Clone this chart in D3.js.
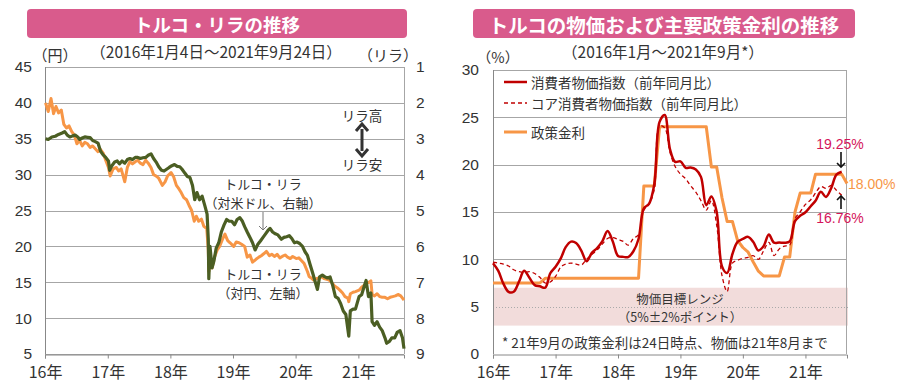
<!DOCTYPE html>
<html><head><meta charset="utf-8">
<script src="https://cdn.jsdelivr.net/npm/d3@7"></script>
<style>
body{margin:0;background:#fff;}
svg text{font-family:"Liberation Sans","Noto Sans CJK JP",sans-serif;fill:#333;}
svg text.jp{font-family:"Noto Sans CJK JP","Liberation Sans",sans-serif;}
</style></head><body>
<svg id="c" width="900" height="390"></svg>
<script>
// ---------- DATA ----------
const yearTickDates = ["2016-01-01","2017-01-01","2018-01-01","2019-01-01","2020-01-01","2021-01-01"];
const yearTickLabels = ["16年","17年","18年","19年","20年","21年"];
const leftTicksYen = [5,10,15,20,25,30,35,40,45];
const rightTicksLira = [1,2,3,4,5,6,7,8,9];
const rightChartTicks = [0,5,10,15,20,25,30];

// Turkish lira vs JPY (yen per lira, left axis)
const tryJpy = [
["2016-01-04",40.0],["2016-01-20",38.8],["2016-02-05",40.6],["2016-02-20",38.5],["2016-03-05",39.5],["2016-03-20",38.6],
["2016-04-05",39.0],["2016-04-20",37.0],["2016-05-05",36.5],["2016-05-20",36.8],["2016-06-05",36.0],["2016-06-20",35.5],
["2016-07-05",34.3],["2016-07-20",34.8],["2016-08-05",34.0],["2016-08-20",34.5],["2016-09-05",34.3],["2016-09-20",33.8],
["2016-10-05",34.0],["2016-10-20",33.6],["2016-11-05",33.2],["2016-11-20",33.5],["2016-12-05",33.0],["2016-12-20",32.0],
["2017-01-05",31.0],["2017-01-15",29.8],["2017-02-01",30.8],["2017-02-20",31.0],["2017-03-05",30.5],["2017-03-20",30.8],
["2017-04-10",29.0],["2017-04-25",31.0],["2017-05-10",31.8],["2017-05-25",31.5],["2017-06-10",31.8],["2017-06-25",32.0],
["2017-07-10",31.6],["2017-07-25",31.4],["2017-08-10",32.0],["2017-08-25",31.6],["2017-09-10",31.0],["2017-09-25",30.0],
["2017-10-10",29.8],["2017-10-25",29.5],["2017-11-15",28.5],["2017-12-01",29.0],["2017-12-15",29.8],["2018-01-05",30.3],
["2018-01-20",29.7],["2018-02-05",28.5],["2018-02-20",28.0],["2018-03-05",27.5],["2018-03-20",26.8],["2018-04-05",26.5],
["2018-04-20",25.7],["2018-05-05",25.0],["2018-05-20",23.5],["2018-06-01",24.2],["2018-06-15",23.5],["2018-07-01",23.8],
["2018-07-15",22.8],["2018-08-01",22.5],["2018-08-10",19.5],["2018-08-13",16.5],["2018-08-20",18.0],["2018-09-01",17.0],
["2018-09-15",18.5],["2018-10-01",19.5],["2018-10-15",20.0],["2018-11-01",21.0],["2018-11-15",21.7],["2018-12-01",20.8],
["2018-12-15",20.5],["2019-01-05",20.0],["2019-01-20",20.6],["2019-02-05",20.5],["2019-02-20",20.3],["2019-03-10",20.0],
["2019-03-25",18.5],["2019-04-10",18.8],["2019-04-25",17.8],["2019-05-15",18.2],["2019-06-01",18.5],["2019-06-15",18.7],
["2019-07-01",19.0],["2019-07-15",19.3],["2019-08-01",18.7],["2019-08-15",18.9],["2019-09-01",18.6],["2019-09-15",18.9],
["2019-10-01",18.4],["2019-10-15",18.6],["2019-11-01",18.8],["2019-11-15",18.5],["2019-12-01",18.3],["2019-12-15",18.6],
["2020-01-05",18.3],["2020-01-20",18.4],["2020-02-05",18.0],["2020-02-20",17.6],["2020-03-10",16.5],["2020-03-20",15.8],
["2020-04-01",15.6],["2020-04-15",15.3],["2020-05-01",15.5],["2020-05-15",15.6],["2020-06-01",15.8],["2020-06-15",15.5],
["2020-07-01",15.4],["2020-07-15",15.3],["2020-08-01",14.9],["2020-08-15",14.5],["2020-09-01",14.2],["2020-09-15",13.9],
["2020-10-01",13.5],["2020-10-15",13.0],["2020-11-01",12.8],["2020-11-06",12.3],["2020-11-15",13.4],["2020-12-01",13.6],
["2020-12-15",13.7],["2021-01-05",13.9],["2021-01-20",14.3],["2021-02-05",14.6],["2021-02-18",14.9],["2021-03-05",15.0],
["2021-03-15",15.2],["2021-03-22",13.3],["2021-04-05",13.1],["2021-04-20",13.4],["2021-05-05",13.0],["2021-05-20",12.9],
["2021-06-05",12.9],["2021-06-20",12.7],["2021-07-05",12.9],["2021-07-20",13.0],["2021-08-05",13.1],["2021-08-20",13.3],
["2021-09-05",13.1],["2021-09-24",12.5]
];

// Turkish lira vs USD (lira per dollar, right axis, inverted)
const tryUsd = [
["2016-01-04",3.00],["2016-01-20",3.02],["2016-02-10",2.95],["2016-03-01",2.93],["2016-03-20",2.88],["2016-04-10",2.84],
["2016-04-25",2.80],["2016-05-10",2.90],["2016-05-25",2.95],["2016-06-10",2.92],["2016-06-25",2.90],["2016-07-10",2.95],
["2016-07-20",3.02],["2016-08-05",2.98],["2016-08-20",2.95],["2016-09-05",2.96],["2016-09-20",2.97],["2016-10-05",3.05],
["2016-10-20",3.08],["2016-11-05",3.12],["2016-11-20",3.35],["2016-12-05",3.45],["2016-12-20",3.52],["2017-01-05",3.62],
["2017-01-12",3.88],["2017-01-25",3.75],["2017-02-10",3.65],["2017-02-25",3.62],["2017-03-10",3.70],["2017-03-25",3.62],
["2017-04-10",3.68],["2017-04-25",3.58],["2017-05-10",3.55],["2017-05-25",3.58],["2017-06-10",3.52],["2017-06-25",3.52],
["2017-07-10",3.55],["2017-07-25",3.53],["2017-08-10",3.52],["2017-08-25",3.46],["2017-09-10",3.42],["2017-09-25",3.55],
["2017-10-10",3.65],["2017-10-25",3.78],["2017-11-10",3.88],["2017-11-25",3.90],["2017-12-10",3.85],["2017-12-25",3.80],
["2018-01-10",3.75],["2018-01-25",3.72],["2018-02-10",3.77],["2018-02-25",3.78],["2018-03-10",3.85],["2018-03-25",3.95],
["2018-04-10",4.05],["2018-04-25",4.08],["2018-05-10",4.30],["2018-05-23",4.70],["2018-06-05",4.50],["2018-06-20",4.70],
["2018-07-05",4.60],["2018-07-20",4.85],["2018-08-03",5.10],["2018-08-10",5.80],["2018-08-13",6.90],["2018-08-20",6.00],
["2018-09-01",6.60],["2018-09-12",6.40],["2018-09-25",6.05],["2018-10-10",5.90],["2018-10-25",5.60],["2018-11-10",5.40],
["2018-11-25",5.25],["2018-12-10",5.30],["2018-12-25",5.30],["2019-01-10",5.40],["2019-01-25",5.25],["2019-02-10",5.20],
["2019-02-25",5.30],["2019-03-10",5.45],["2019-03-25",5.60],["2019-04-10",5.75],["2019-04-25",5.90],["2019-05-10",6.10],
["2019-05-25",5.95],["2019-06-10",5.85],["2019-06-25",5.75],["2019-07-10",5.65],["2019-07-25",5.55],["2019-08-05",5.50],
["2019-08-20",5.60],["2019-09-05",5.65],["2019-09-20",5.68],["2019-10-10",5.80],["2019-10-25",5.75],["2019-11-10",5.73],
["2019-11-25",5.70],["2019-12-10",5.78],["2019-12-25",5.90],["2020-01-10",5.88],["2020-01-25",5.92],["2020-02-10",6.00],
["2020-02-25",6.15],["2020-03-10",6.25],["2020-03-25",6.50],["2020-04-10",6.75],["2020-04-25",7.00],["2020-05-07",7.20],
["2020-05-20",6.85],["2020-06-05",6.80],["2020-06-20",6.85],["2020-07-05",6.88],["2020-07-20",6.85],["2020-08-05",7.10],
["2020-08-20",7.40],["2020-09-05",7.45],["2020-09-20",7.60],["2020-10-05",7.80],["2020-10-20",7.90],["2020-11-06",8.50],
["2020-11-15",7.80],["2020-12-01",7.75],["2020-12-15",7.75],["2021-01-05",7.40],["2021-01-20",7.35],["2021-02-05",7.10],
["2021-02-15",6.95],["2021-03-01",7.40],["2021-03-15",7.30],["2021-03-22",8.10],["2021-04-05",8.20],["2021-04-20",8.10],
["2021-05-05",8.25],["2021-05-20",8.35],["2021-06-05",8.55],["2021-06-15",8.70],["2021-07-01",8.65],["2021-07-15",8.55],
["2021-08-01",8.55],["2021-08-15",8.40],["2021-09-01",8.35],["2021-09-15",8.55],["2021-09-24",8.85]
];

// Right chart: monthly, Jan 2016 onward
const monthStart = "2016-01-01";
const cpi = [9.58,8.78,7.46,6.57,6.58,7.64,8.79,8.05,7.28,7.16,7.00,8.53,
  9.22,10.13,11.29,11.87,11.72,10.90,9.79,10.68,11.20,11.90,12.98,11.92,
  10.35,10.26,10.23,10.85,12.15,15.39,15.85,17.90,24.52,25.24,21.62,20.30,
  20.35,19.67,19.71,19.50,18.71,15.72,16.65,15.01,9.26,8.55,10.56,11.84,
  12.15,12.37,11.86,10.94,11.39,12.62,11.76,11.77,11.75,11.89,14.03,14.60,
  14.97,15.61,16.19,17.14,16.59,17.53,18.95,19.25];
const coreCpi = [9.7,9.6,9.5,9.3,8.9,8.7,8.6,8.7,8.5,8.1,7.5,7.6,
  8.2,9.2,9.5,9.6,9.5,9.4,10.0,10.5,11.0,11.6,12.2,12.3,
  12.1,11.9,11.5,12.2,12.6,15.2,15.8,17.4,24.1,23.9,21.3,19.8,
  19.0,18.5,17.8,17.1,16.2,15.2,16.2,13.6,8.3,6.6,9.6,9.9,
  10.1,10.2,10.4,10.0,10.9,11.8,10.4,11.1,11.4,11.5,14.3,15.0,
  15.8,16.3,17.0,17.7,17.5,17.8,17.3,16.76];
const policyRate = [7.5,7.5,7.5,7.5,7.5,7.5,7.5,7.5,7.5,7.5,8.0,8.0,
  8.0,8.0,8.0,8.0,8.0,8.0,8.0,8.0,8.0,8.0,8.0,8.0,
  8.0,8.0,8.0,8.0,8.0,17.75,17.75,17.75,24.0,24.0,24.0,24.0,
  24.0,24.0,24.0,24.0,24.0,24.0,19.75,19.75,16.5,14.0,14.0,12.0,
  11.25,10.75,9.75,8.75,8.25,8.25,8.25,8.25,10.25,10.25,15.0,17.0,
  17.0,17.0,19.0,19.0,19.0,19.0,19.0,19.0,18.0];
const targetRange = [3,7];
const targetCenter = 5;

// ---------- DRAW ----------
const svg = d3.select("#c");
const parse = d3.timeParse("%Y-%m-%d");
const GRID = "#a6a6a6";
const PINK = "#d95b8c";
const ORANGE = "#f79646";
const GREEN = "#4b5e23";
const RED = "#c00000";
const CRIMSON = "#d4145a";

function titleBox(x, w, text, size){
  svg.append("rect").attr("x",x).attr("y",9).attr("width",w).attr("height",29).attr("rx",4).attr("fill",PINK);
  svg.append("text").attr("class","jp").attr("x",x+w/2).attr("y",24).attr("text-anchor","middle")
    .attr("dominant-baseline","central").attr("font-size",size).attr("font-weight","bold")
    .style("fill","#fff").text(text);
}
function txt(x,y,t,opt={}){
  const e = svg.append("text").attr("x",x).attr("y",y).attr("dominant-baseline","central")
    .attr("font-size",opt.size||13).attr("text-anchor",opt.anchor||"start").text(t);
  if(opt.jp!==false) e.attr("class","jp");
  if(opt.color) e.style("fill",opt.color);
  return e;
}
function arrow(x, yFrom, yTo, color, w, head){
  const dir = yTo>yFrom?1:-1;
  svg.append("line").attr("x1",x).attr("x2",x).attr("y1",yFrom).attr("y2",yTo-dir*1).attr("stroke",color).attr("stroke-width",w);
  svg.append("path").attr("d",`M${x-head},${yTo-dir*head} L${x},${yTo} L${x+head},${yTo-dir*head}`)
    .attr("fill","none").attr("stroke",color).attr("stroke-width",w);
}

// ===== LEFT CHART =====
const L = {x0:45, x1:404, y0:67, y1:354};
const xL = d3.scaleTime().domain([parse("2016-01-01"), parse("2021-09-24")]).range([L.x0, L.x1]);
const yL = d3.scaleLinear().domain([5,45]).range([L.y1, L.y0]);
const yLR = d3.scaleLinear().domain([1,9]).range([L.y0, L.y1]);

titleBox(27, 380, "トルコ・リラの推移", 18.5);
txt(216, 51, "（2016年1月4日～2021年9月24日）", {size:15.5, anchor:"middle"});
txt(55, 54, "（円）", {size:15, anchor:"middle"});
txt(388, 54, "（リラ）", {size:15, anchor:"middle"});

const gL = svg.append("g");
leftTicksYen.forEach(v=>{
  gL.append("line").attr("x1",L.x0).attr("x2",L.x1).attr("y1",Math.round(yL(v))+0.5).attr("y2",Math.round(yL(v))+0.5)
    .attr("stroke",GRID).attr("stroke-width",1);
});
gL.append("line").attr("x1",L.x1+0.5).attr("x2",L.x1+0.5).attr("y1",L.y0).attr("y2",L.y1).attr("stroke",GRID);
gL.append("line").attr("x1",L.x0+0.5).attr("x2",L.x0+0.5).attr("y1",L.y0).attr("y2",L.y1).attr("stroke","#888");

const axYL = svg.append("g").attr("transform",`translate(${L.x0},0)`)
  .call(d3.axisLeft(yL).tickValues(leftTicksYen).tickSize(0).tickPadding(13).tickFormat(d3.format("d")));
axYL.select(".domain").remove();
axYL.selectAll("text").attr("font-size",15.5).style("font-family","'Liberation Sans',sans-serif").attr("fill","#333");
const axYR = svg.append("g").attr("transform",`translate(${L.x1},0)`)
  .call(d3.axisRight(yLR).tickValues(rightTicksLira).tickSize(0).tickPadding(12).tickFormat(d3.format("d")));
axYR.select(".domain").remove();
axYR.selectAll("text").attr("font-size",15.5).style("font-family","'Liberation Sans',sans-serif").attr("fill","#333");

const axXL = svg.append("g").attr("transform",`translate(0,${L.y1+0.5})`)
  .call(d3.axisBottom(xL).tickValues(yearTickDates.map(parse)).tickSize(4).tickPadding(8)
  .tickFormat((d,i)=>yearTickLabels[i]));
axXL.select(".domain").attr("stroke","#888");
axXL.selectAll("line").attr("stroke","#888");
axXL.selectAll("text").attr("font-size",16).attr("class","jp").attr("fill","#333");

const lineJpy = d3.line().x(d=>xL(parse(d[0]))).y(d=>yL(d[1]));
const lineUsd = d3.line().x(d=>xL(parse(d[0]))).y(d=>yLR(d[1]));
svg.append("path").datum(tryJpy).attr("d",lineJpy).attr("fill","none").attr("stroke",ORANGE).attr("stroke-width",3).attr("stroke-linejoin","round");
svg.append("path").datum(tryUsd).attr("d",lineUsd).attr("fill","none").attr("stroke",GREEN).attr("stroke-width",3.2).attr("stroke-linejoin","round");

// left annotations
txt(362, 115, "リラ高", {size:13.5, anchor:"middle"});
txt(362, 164, "リラ安", {size:13.5, anchor:"middle"});
svg.append("line").attr("x1",362).attr("x2",362).attr("y1",129).attr("y2",151).attr("stroke","#333").attr("stroke-width",3);
svg.append("path").attr("d","M356,131 L362,124 L368,131").attr("fill","none").attr("stroke","#333").attr("stroke-width",3);
svg.append("path").attr("d","M356,149 L362,156 L368,149").attr("fill","none").attr("stroke","#333").attr("stroke-width",3);
txt(263, 183, "トルコ・リラ", {size:13, anchor:"middle"});
txt(263, 202, "（対米ドル、右軸）", {size:13, anchor:"middle"});
arrow(263, 212, 230, "#777", 1, 4);
txt(263, 273, "トルコ・リラ", {size:13, anchor:"middle"});
txt(263, 292, "（対円、左軸）", {size:13, anchor:"middle"});

// ===== RIGHT CHART =====
const R = {x0:493, x1:846, y0:70, y1:354};
const xR = d3.scaleTime().domain([parse("2016-01-01"), parse("2021-09-01")]).range([R.x0, 847]);
const yR = d3.scaleLinear().domain([0,30]).range([R.y1, R.y0]);
const month = i => d3.timeMonth.offset(parse(monthStart), i);

titleBox(473, 382, "トルコの物価および主要政策金利の推移", 19.5);
txt(663, 51, "（2016年1月～2021年9月*）", {size:15.5, anchor:"middle"});
txt(498, 56, "（%）", {size:14.5, anchor:"middle"});

// target band
svg.append("rect").attr("x",R.x0).attr("y",yR(targetRange[1])).attr("width",848-R.x0)
  .attr("height",yR(targetRange[0])-yR(targetRange[1])).attr("fill","#f2dcdb");
svg.append("line").attr("x1",R.x0).attr("x2",848).attr("y1",Math.round(yR(targetCenter))+0.5).attr("y2",Math.round(yR(targetCenter))+0.5)
  .attr("stroke","#aaa").attr("stroke-dasharray","1,2");

[10,15,20,25,30].forEach(v=>{
  svg.append("line").attr("x1",R.x0).attr("x2",R.x1).attr("y1",Math.round(yR(v))+0.5).attr("y2",Math.round(yR(v))+0.5)
    .attr("stroke",GRID);
});
svg.append("line").attr("x1",R.x1+0.5).attr("x2",R.x1+0.5).attr("y1",R.y0).attr("y2",R.y1).attr("stroke",GRID);
svg.append("line").attr("x1",R.x0+0.5).attr("x2",R.x0+0.5).attr("y1",R.y0).attr("y2",R.y1).attr("stroke","#888");

const axYR2 = svg.append("g").attr("transform",`translate(${R.x0},0)`)
  .call(d3.axisLeft(yR).tickValues(rightChartTicks).tickSize(0).tickPadding(14).tickFormat(d3.format("d")));
axYR2.select(".domain").remove();
axYR2.selectAll("text").attr("font-size",15.5).style("font-family","'Liberation Sans',sans-serif").attr("fill","#333");

const axXR = svg.append("g").attr("transform",`translate(0,${R.y1+0.5})`)
  .call(d3.axisBottom(xR).tickValues(yearTickDates.map(parse)).tickSize(4).tickPadding(8)
  .tickFormat((d,i)=>yearTickLabels[i]));
axXR.select(".domain").attr("stroke","#888");
axXR.selectAll("line").attr("stroke","#888");
axXR.selectAll("text").attr("font-size",16).attr("class","jp").attr("fill","#333");

// band texts
txt(680, 298, "物価目標レンジ", {size:12.5, anchor:"middle"});
txt(680, 316, "（5%±2%ポイント）", {size:12.5, anchor:"middle"});
txt(502, 342, "* 21年9月の政策金利は24日時点、物価は21年8月まで", {size:13.5});

const curve = d3.curveCatmullRom.alpha(0.5);
const lineM = d3.line().x((d,i)=>xR(month(i))).y(d=>yR(d));
svg.append("path").datum(policyRate).attr("d",lineM).attr("fill","none").attr("stroke",ORANGE).attr("stroke-width",3).attr("stroke-linejoin","round");
svg.append("path").datum(coreCpi).attr("d",lineM.curve(curve)).attr("fill","none").attr("stroke",RED).attr("stroke-width",1.3).attr("stroke-dasharray","4,3");
svg.append("path").datum(cpi).attr("d",lineM.curve(curve)).attr("fill","none").attr("stroke",RED).attr("stroke-width",2.5);

// legend
const lg = [{y:82,label:"消費者物価指数（前年同月比）",c:RED,w:2.5,dash:null},
            {y:103,label:"コア消費者物価指数（前年同月比）",c:RED,w:1.3,dash:"4,3"},
            {y:132,label:"政策金利",c:ORANGE,w:3,dash:null}];
lg.forEach(d=>{
  const l = svg.append("line").attr("x1",504).attr("x2",527).attr("y1",d.y).attr("y2",d.y).attr("stroke",d.c).attr("stroke-width",d.w);
  if(d.dash) l.attr("stroke-dasharray",d.dash);
  txt(531, d.y, d.label, {size:13.5});
});

// end annotations
txt(840, 144, "19.25%", {size:14, anchor:"middle", color:CRIMSON, jp:false});
arrow(841, 152, 167, "#111", 1.6, 4);
txt(848, 184, "18.00%", {size:14, color:ORANGE, jp:false});
arrow(841, 209, 196, "#111", 1.6, 4);
txt(840, 218, "16.76%", {size:14, anchor:"middle", color:CRIMSON, jp:false});
</script>
</body></html>
